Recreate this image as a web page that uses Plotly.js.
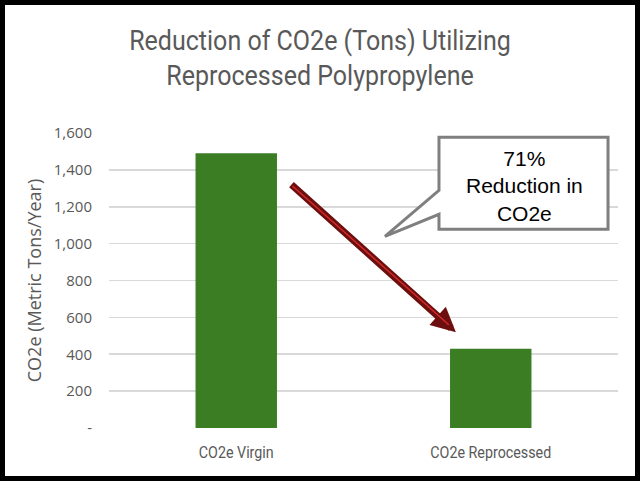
<!DOCTYPE html>
<html><head><meta charset="utf-8">
<script src="https://cdn.plot.ly/plotly-3.0.1.min.js"></script>
<style>
html,body{margin:0;padding:0;background:#fff;}
#wrap{width:640px;height:481px;box-sizing:border-box;border:5px solid #000;position:relative;overflow:hidden;}
#chart{width:630px;height:471px;}
</style></head>
<body><div id="wrap"><div id="chart"></div></div>
<script>
const categories = ["CO2e Virgin", "CO2e Reprocessed"];
const values = [1490, 430];
const tickVals = [0, 200, 400, 600, 800, 1000, 1200, 1400, 1600];
const tickText = ["-", "200", "400", "600", "800", "1,000", "1,200", "1,400", "1,600"];
const titleText = "Reduction of CO2e (Tons) Utilizing<br>Reprocessed Polypropylene";
const calloutText = "71%<br>Reduction in<br>CO2e";

const condensed = "Roboto, sans-serif";
const arial = "Liberation Sans, Arial, sans-serif";
const wide = "Open Sans, sans-serif";
const grey = "#595959";

// pixel helpers (plot area: page px x 109..618, y 132.7..427.7)
const PX0 = 109, PX1 = 618, PY0 = 427.7, PY1 = 132.7;
const px = v => (v - PX0) / (PX1 - PX0);
const py = v => (PY0 - v) / (PY0 - PY1);

const calloutPath = [
  [439,137],[608,137],[608,229],[439,229],[439,214],[385,236],[439,190]
].map((p,i)=> (i===0?"M":"L") + px(p[0]).toFixed(4) + "," + py(p[1]).toFixed(4)).join(" ") + " Z";

const data = [{
  type: "bar",
  x: categories,
  y: values,
  marker: {color: "#3b7d23"},
  width: 0.32,
  hoverinfo: "skip"
}];

const layout = {
  width: 630, height: 471,
  margin: {l: 104, r: 17, t: 128, b: 48},
  paper_bgcolor: "#fff", plot_bgcolor: "#fff",
  showlegend: false,
  title: {
    text: titleText,
    font: {family: condensed, size: 27, color: grey},
    x: 0.5, xref: "container", xanchor: "center",
    y: 1 - 45/471, yref: "container", yanchor: "middle"
  },
  xaxis: {
    type: "category",
    range: [-0.5, 1.5],
    showgrid: false, zeroline: false, showline: false,
    tickfont: {family: condensed, size: 16, color: grey},
    ticks: "", ticklabelstandoff: 13
  },
  yaxis: {
    range: [0, 1600],
    tickvals: tickVals, ticktext: tickText,
    showgrid: true, gridcolor: "#d9d9d9", gridwidth: 1.6,
    zeroline: false, showline: false, ticks: "",
    tickfont: {family: wide, size: 15, color: grey},
    ticklabelstandoff: 16,
    title: {text: "CO2e (Metric Tons/Year)", font: {family: wide, size: 18, color: grey}, standoff: 7}
  },
  shapes: [
    {type: "path", xref: "paper", yref: "paper", path: calloutPath,
     line: {color: "#7f7f7f", width: 3}, fillcolor: "#fff", layer: "above"}
  ],
  annotations: [
    {x: px(524), y: py(186), xref: "paper", yref: "paper", text: calloutText,
     showarrow: false, font: {family: arial, size: 21, color: "#000"},
     align: "center", xanchor: "center", yanchor: "middle"},
    {x: 0.863, y: 519, xref: "x", yref: "y", ax: 0.211, ay: 1327, axref: "x", ayref: "y",
     text: "", showarrow: true, arrowhead: 2, arrowsize: 0.7, arrowwidth: 7, arrowcolor: "#6e0f0f", standoff: 0},
    {x: 0.835, y: 560, xref: "x", yref: "y", ax: 0.215, ay: 1320, axref: "x", ayref: "y",
     text: "", showarrow: true, arrowhead: 0, arrowwidth: 1.5, arrowcolor: "#d02a2a", standoff: 0}
  ]
};

function squeeze(el, s) {
  const bb = el.getBBox();
  const cx = bb.x + bb.width / 2;
  const prev = el.getAttribute("transform") || "";
  el.setAttribute("transform", prev + " translate(" + cx + ",0) scale(" + s + ",1) translate(" + (-cx) + ",0)");
}

Plotly.newPlot("chart", data, layout, {displayModeBar: false, staticPlot: true}).then(() => {
  const t = document.querySelector("#chart .gtitle");
  if (t) {
    const w = t.getBBox().width;
    if (w > 0) squeeze(t, 382 / w);
  }
  const xt = document.querySelectorAll("#chart .xtick text");
  if (xt.length) {
    const w0 = xt[0].getBBox().width;
    if (w0 > 0) { const s = 75 / w0; xt.forEach(e => squeeze(e, s)); }
  }
});
</script></body></html>
